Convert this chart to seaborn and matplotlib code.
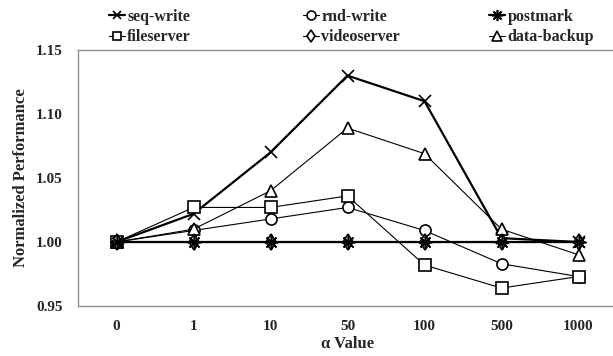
import numpy as np
import pandas as pd
import matplotlib
matplotlib.use("Agg")
import matplotlib.pyplot as plt
import seaborn as sns

sns.set_style("white")
plt.rcParams['font.family'] = ['Liberation Serif', 'DejaVu Serif']
plt.rcParams['font.weight'] = 'bold'

# Data
alpha_labels = ["0", "1", "10", "50", "100", "500", "1000"]
seq_write = [1.000, 1.022, 1.070, 1.130, 1.110, 1.003, 1.000]
rnd_write = [1.000, 1.009, 1.018, 1.027, 1.009, 0.983, 0.973]
postmark = [1.000, 1.000, 1.000, 1.000, 1.000, 1.000, 1.000]
fileserver = [1.000, 1.027, 1.027, 1.036, 0.982, 0.964, 0.973]
videoserver = [1.000, 1.000, 1.000, 1.000, 1.000, 1.000, 1.000]
data_backup = [1.000, 1.010, 1.040, 1.089, 1.069, 1.010, 0.990]

series = {
    "seq-write": seq_write,
    "rnd-write": rnd_write,
    "fileserver": fileserver,
    "data-backup": data_backup,
    "videoserver": videoserver,
    "postmark": postmark,
}

# marker, line width, marker size
styles = {
    "seq-write": ("x", 1.6, 8),
    "rnd-write": ("o", 0.8, 8),
    "postmark": ((8, 2, 0), 1.6, 10),
    "fileserver": ("s", 0.8, 8),
    "videoserver": ("d", 0.8, 8),
    "data-backup": ("^", 0.8, 9),
}

fig = plt.figure(figsize=(6.13, 3.56), dpi=100)
ax = fig.add_axes([78 / 613, 50 / 356, 539 / 613, 256 / 356])

xpos = np.arange(len(alpha_labels))
handles = {}
for name, vals in series.items():
    m, lw, ms = styles[name]
    sns.lineplot(
        x=xpos, y=vals, ax=ax, color="black", linewidth=lw,
        marker=m, markersize=ms, markerfacecolor="white",
        markeredgecolor="black", markeredgewidth=1.2, label=name,
        legend=False
    )
    handles[name] = ax.lines[-1]

ax.set_xlim(-0.5, 6.5)
ax.set_ylim(0.95, 1.15)
yt = [0.95, 1.00, 1.05, 1.10, 1.15]
ax.set_yticks(yt)
ax.set_yticklabels([f"{v:.2f}" for v in yt], fontsize=11, fontweight="bold")
ax.set_xticks(xpos)
ax.set_xticklabels(alpha_labels, fontsize=11, fontweight="bold")
ax.set_xticks(np.arange(-0.5, 6.6, 1), minor=True)
ax.tick_params(axis="x", which="major", length=0, pad=10)
ax.tick_params(axis="x", which="minor", length=5, color="#909090", direction="out")
ax.tick_params(axis="y", length=5, color="#909090", direction="out", pad=6)

for s in ["left", "bottom", "top"]:
    ax.spines[s].set_color("#909090")
    ax.spines[s].set_linewidth(1.0)
ax.spines["right"].set_visible(False)

ax.set_xlabel("α Value", fontsize=12, fontweight="bold", labelpad=2)
ax.set_ylabel("Normalized Performance", fontsize=12, fontweight="bold", labelpad=5)

# legend: three columns, two rows
legend_cols = [
    (["seq-write", "fileserver"], 101),
    (["rnd-write", "videoserver"], 295),
    (["postmark", "data-backup"], 481),
]
for names, x0 in legend_cols:
    leg = fig.legend([handles[n] for n in names], names, loc="upper left",
                     bbox_to_anchor=(x0 / 613, 0.998), frameon=False,
                     prop={"size": 11.5, "weight": "bold"},
                     handlelength=1.0, handletextpad=0.15,
                     labelspacing=0.3, borderaxespad=0.1, markerscale=0.8)

fig.savefig("out.png", dpi=100)
